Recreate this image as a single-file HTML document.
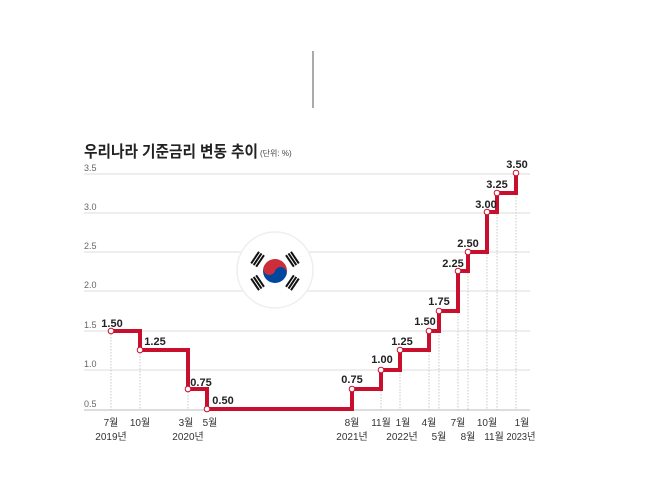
<!DOCTYPE html>
<html><head><meta charset="utf-8"><style>
html,body{margin:0;padding:0;background:#fff;}
svg{display:block;font-family:"Liberation Sans","Noto Sans CJK KR",sans-serif;}
</style></head><body>
<svg width="661" height="495" viewBox="0 0 661 495">
<rect width="661" height="495" fill="#fff"/>
<line x1="313" y1="51" x2="313" y2="108" stroke="#aaa" stroke-width="2"/>
<text x="84" y="157" font-size="16" font-weight="bold" fill="#222" textLength="174" lengthAdjust="spacingAndGlyphs">우리나라 기준금리 변동 추이</text>
<text x="260" y="156" font-size="8" fill="#444">(단위: %)</text>
<g stroke="#ddd" stroke-width="1">
<line x1="84" y1="174" x2="530" y2="174"/>
<line x1="84" y1="213" x2="530" y2="213"/>
<line x1="84" y1="252" x2="530" y2="252"/>
<line x1="84" y1="291" x2="530" y2="291"/>
<line x1="84" y1="331" x2="530" y2="331"/>
<line x1="84" y1="370" x2="530" y2="370"/>
</g>
<line x1="84" y1="410" x2="530" y2="410" stroke="#bbb" stroke-width="1"/>
<g font-size="9" fill="#666">
<text x="84" y="171">3.5</text><text x="84" y="210">3.0</text><text x="84" y="249">2.5</text>
<text x="84" y="288">2.0</text><text x="84" y="328">1.5</text><text x="84" y="367">1.0</text><text x="84" y="407">0.5</text>
</g>
<g stroke="#bbb" stroke-width="0.8" stroke-dasharray="1.5,1.5">
<line x1="111" y1="331" x2="111" y2="410"/><line x1="140" y1="350" x2="140" y2="410"/>
<line x1="188" y1="389" x2="188" y2="410"/><line x1="352" y1="389" x2="352" y2="410"/>
<line x1="381" y1="370" x2="381" y2="410"/><line x1="400" y1="350" x2="400" y2="410"/>
<line x1="429" y1="331" x2="429" y2="410"/><line x1="439" y1="311" x2="439" y2="410"/>
<line x1="458" y1="271" x2="458" y2="410"/><line x1="468" y1="252" x2="468" y2="410"/>
<line x1="487" y1="212" x2="487" y2="410"/><line x1="497" y1="193" x2="497" y2="410"/>
<line x1="516" y1="173" x2="516" y2="410"/>
</g>
<circle cx="275" cy="270" r="38" fill="#fff" stroke="#eee" stroke-width="1.5"/>
<g transform="translate(275,271)">
<g transform="rotate(20)">
<path d="M-12,0 A12,12 0 0,1 12,0 Z" fill="#cd2e3a"/>
<path d="M-12,0 A12,12 0 0,0 12,0 Z" fill="#0047a0"/>
<circle cx="-6" cy="0" r="6" fill="#cd2e3a"/>
<circle cx="6" cy="0" r="6" fill="#0047a0"/>
</g>
<g fill="#111">
<g transform="rotate(-56) translate(0,-21)"><rect x="-7" y="-4" width="14" height="2"/><rect x="-7" y="-1" width="14" height="2"/><rect x="-7" y="2" width="14" height="2"/></g>
<g transform="rotate(56) translate(0,-21)"><rect x="-7" y="-4" width="14" height="2"/><rect x="-7" y="-1" width="14" height="2"/><rect x="-7" y="2" width="14" height="2"/></g>
<g transform="rotate(124) translate(0,-21)"><rect x="-7" y="-4" width="14" height="2"/><rect x="-7" y="-1" width="14" height="2"/><rect x="-7" y="2" width="14" height="2"/></g>
<g transform="rotate(-124) translate(0,-21)"><rect x="-7" y="-4" width="14" height="2"/><rect x="-7" y="-1" width="14" height="2"/><rect x="-7" y="2" width="14" height="2"/></g>
</g></g>
<path d="M111,331 H140 V350 H188 V389 H207 V409 H352 V389 H381 V370 H400 V350 H429 V331 H439 V311 H458 V271 H468 V252 H487 V212 H497 V193 H516 V173" fill="none" stroke="#c8102e" stroke-width="4"/>
<g fill="#fff" stroke="#c8102e" stroke-width="1">
<circle cx="111" cy="331" r="2.8"/><circle cx="140" cy="350" r="2.8"/><circle cx="188" cy="389" r="2.8"/><circle cx="207" cy="409" r="2.8"/>
<circle cx="352" cy="389" r="2.8"/><circle cx="381" cy="370" r="2.8"/><circle cx="400" cy="350" r="2.8"/><circle cx="429" cy="331" r="2.8"/>
<circle cx="439" cy="311" r="2.8"/><circle cx="458" cy="271" r="2.8"/><circle cx="468" cy="252" r="2.8"/><circle cx="487" cy="212" r="2.8"/>
<circle cx="497" cy="193" r="2.8"/><circle cx="516" cy="173" r="2.8"/>
</g>
<g font-size="11" font-weight="bold" fill="#222" text-anchor="middle">
<text x="112" y="327">1.50</text><text x="155" y="345">1.25</text><text x="201" y="386">0.75</text><text x="223" y="404">0.50</text>
<text x="352" y="383">0.75</text><text x="382" y="363">1.00</text><text x="402" y="345">1.25</text><text x="425" y="325">1.50</text>
<text x="439" y="305">1.75</text><text x="453" y="267">2.25</text><text x="468" y="247">2.50</text><text x="486" y="208">3.00</text>
<text x="497" y="188">3.25</text><text x="517" y="168">3.50</text>
</g>
<g font-size="10" fill="#333" text-anchor="middle">
<text x="111" y="426">7월</text><text x="140" y="426">10월</text><text x="186" y="426">3월</text><text x="210" y="426">5월</text>
<text x="111" y="440">2019년</text><text x="188" y="440">2020년</text>
<text x="352" y="426">8월</text><text x="352" y="440">2021년</text>
<text x="381" y="426">11월</text><text x="403" y="426">1월</text><text x="402" y="440">2022년</text>
<text x="429" y="426">4월</text><text x="439" y="440">5월</text>
<text x="458" y="426">7월</text><text x="468" y="440">8월</text>
<text x="487" y="426">10월</text><text x="494" y="440">11월</text>
<text x="522" y="426">1월</text><text x="521" y="440" textLength="29" lengthAdjust="spacingAndGlyphs">2023년</text>
</g>
</svg>
</body></html>
